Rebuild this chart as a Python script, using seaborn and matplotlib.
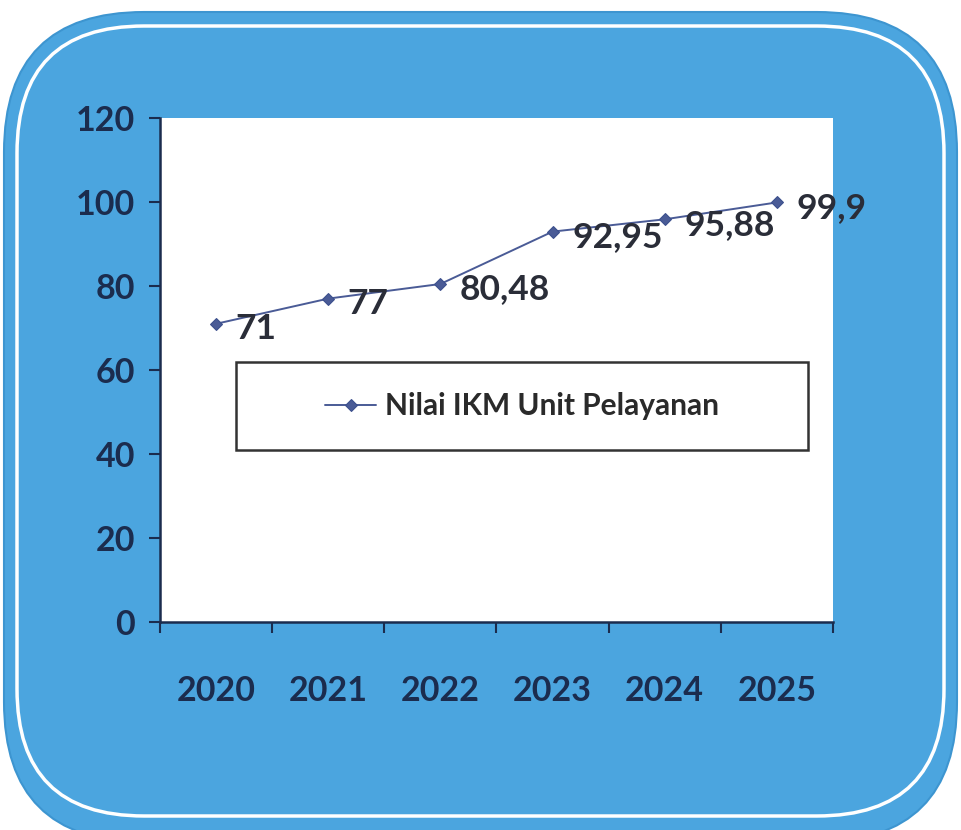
import matplotlib
matplotlib.use("Agg")
import matplotlib.pyplot as plt
from matplotlib.patches import FancyBboxPatch, Rectangle
import seaborn as sns
import pandas as pd

years = ["2020", "2021", "2022", "2023", "2024", "2025"]
values = [71, 77, 80.48, 92.95, 95.88, 99.9]
value_labels = ["71", "77", "80,48", "92,95", "95,88", "99,9"]
series_name = "Nilai IKM Unit Pelayanan"
y_ticks = [0, 20, 40, 60, 80, 100, 120]

sns.set_theme(style="white")
plt.rcParams["font.family"] = ["Lato", "DejaVu Sans"]

W, H = 961, 830
fig = plt.figure(figsize=(W / 100, H / 100), dpi=100, facecolor="white")

# background rounded panel (pixel units)
bg = fig.add_axes([0, 0, 1, 1], zorder=-1)
bg.set_xlim(0, W)
bg.set_ylim(H, 0)
bg.axis("off")
bg.add_patch(FancyBboxPatch((4, 12), 953, 830, boxstyle="round,pad=0,rounding_size=140",
                            facecolor="#4ba5df", edgecolor="#3d95d0", linewidth=1.5))
bg.add_patch(FancyBboxPatch((17, 26), 927, 790, boxstyle="round,pad=0,rounding_size=127",
                            facecolor="none", edgecolor="white", linewidth=2.5))

ax = fig.add_axes([160 / W, 1 - 622 / H, (833 - 160) / W, (622 - 118) / H])
ax.set_facecolor("white")

df = pd.DataFrame({"Tahun": years, "Nilai": values, "Seri": series_name})
sns.lineplot(data=df, x="Tahun", y="Nilai", hue="Seri", palette=["#4a5b96"], marker="D",
             markersize=6.5, markeredgecolor="#3b4f8c", linewidth=1.4, ax=ax, legend=True)

for i, (v, lab) in enumerate(zip(values, value_labels)):
    ax.annotate(lab, (i, v), xytext=(14, -4), textcoords="offset points",
                ha="left", va="center", fontsize=25.5, fontweight="bold", color="#2a2d38",
                annotation_clip=False)

ax.set_xlim(-0.5, 5.5)
ax.set_ylim(0, 120)
ax.set_yticks(y_ticks)
ax.set_xticks(range(len(years)))
ax.set_xticklabels(years)
ax.set_xticks([x - 0.5 for x in range(len(years) + 1)], minor=True)
ax.set_xlabel("")
ax.set_ylabel("")

navy = "#1b2c4e"
ax.tick_params(axis="y", which="major", direction="out", length=8, width=1.5, color=navy,
               labelsize=24.5, labelcolor=navy, pad=10, left=True)
ax.tick_params(axis="x", which="major", length=0, labelsize=24.5, labelcolor=navy, pad=38)
ax.tick_params(axis="x", which="minor", direction="out", length=8, width=1.5, color=navy, bottom=True)
for lab in ax.get_xticklabels() + ax.get_yticklabels():
    lab.set_fontweight("bold")

for s in ["top", "right"]:
    ax.spines[s].set_visible(False)
for s in ["left", "bottom"]:
    ax.spines[s].set_color(navy)
    ax.spines[s].set_linewidth(1.8)

# legend box
x0, x1 = (236 - 160) / 673, (808 - 160) / 673
y0, y1 = (622 - 450) / 504, (622 - 362) / 504
ax.add_patch(Rectangle((x0, y0), x1 - x0, y1 - y0, transform=ax.transAxes,
                       facecolor="white", edgecolor="#333333", linewidth=1.8, zorder=4))
leg = ax.legend(loc="center", bbox_to_anchor=((x0 + x1) / 2, (y0 + y1) / 2),
                frameon=False, handlelength=1.7, handletextpad=0.3,
                prop={"size": 21.5, "weight": "bold"})
leg.set_zorder(5)
for t in leg.get_texts():
    t.set_color("#2a2a2a")

fig.savefig("out.png", dpi=100, facecolor="white")
